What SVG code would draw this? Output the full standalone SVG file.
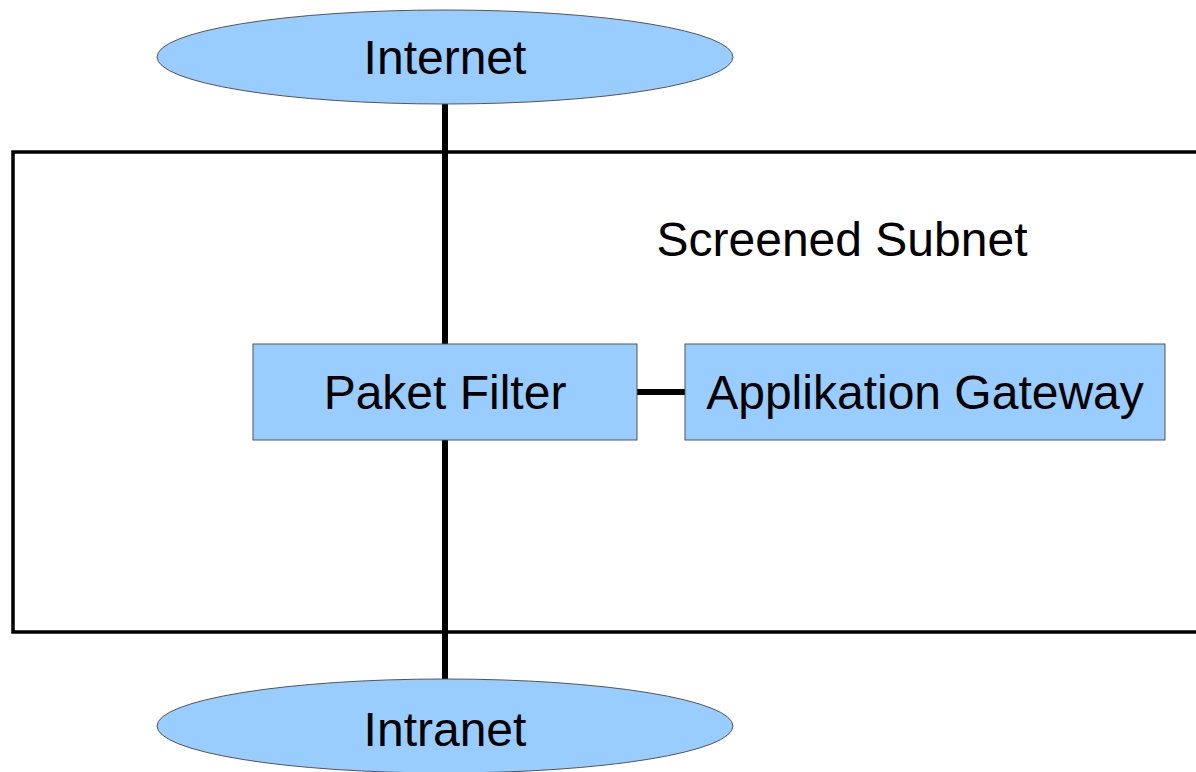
<svg xmlns="http://www.w3.org/2000/svg" width="1196" height="772" viewBox="0 0 1196 772">
<style>
.node{fill:#99ccff;stroke:#555;stroke-width:1}
.lbl{font-family:"Liberation Sans",Arial,sans-serif;font-size:48px;fill:#000;text-anchor:middle}
.conn{stroke:#000;stroke-width:6;fill:none}
.frame{stroke:#000;stroke-width:3.5;fill:none}
</style>
<rect width="1196" height="772" fill="#fff"/>
<g id="subnet">
<path class="frame" d="M1196 152 H13 V632 H1196"/>
<text class="lbl" x="842" y="256">Screened Subnet</text>
</g>
<g id="connectors">
<line class="conn" x1="445" y1="100" x2="445" y2="684"/>
<line class="conn" x1="637" y1="392" x2="685" y2="392"/>
</g>
<g id="internet">
<ellipse class="node" cx="445" cy="57" rx="288" ry="47"/>
<text class="lbl" x="445" y="74">Internet</text>
</g>
<g id="paketfilter">
<rect class="node" x="253" y="344" width="384" height="96"/>
<text class="lbl" x="445" y="409">Paket Filter</text>
</g>
<g id="gateway">
<rect class="node" x="685" y="344" width="480" height="96"/>
<text class="lbl" x="925" y="409">Applikation Gateway</text>
</g>
<g id="intranet">
<ellipse class="node" cx="445" cy="726" rx="288" ry="47"/>
<text class="lbl" x="445" y="746">Intranet</text>
</g>
</svg>
